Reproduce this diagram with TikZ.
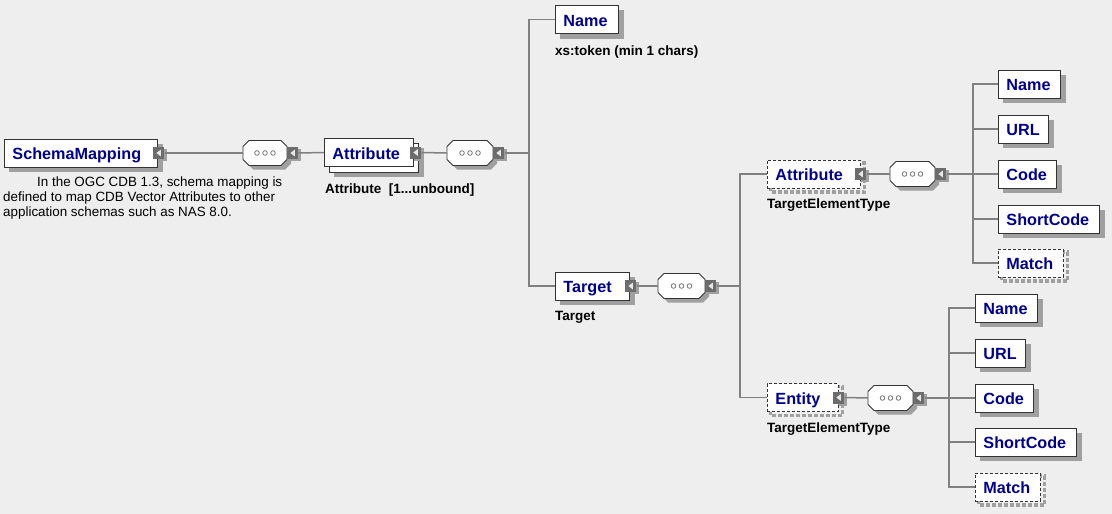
\documentclass[tikz,border=0pt]{standalone}
\usepackage{fontspec}
\setmainfont{Liberation Sans}
\pgfdeclarelayer{bgl}
\pgfdeclarelayer{shl}
\pgfsetlayers{bgl,shl,main}
\definecolor{bg}{HTML}{EEEEEE}
\definecolor{navy}{HTML}{000090}
\definecolor{boxc}{HTML}{333333}
\definecolor{shadowc}{HTML}{A0A0A0}
\definecolor{linec}{HTML}{808080}
\definecolor{btnc}{HTML}{6C6C6C}
\definecolor{tric}{HTML}{E8E8E8}
\newcommand\elemfont{\fontsize{16.2}{18}\selectfont\bfseries}
\newcommand\lblfont{\fontsize{13.5}{15}\selectfont\bfseries}
\newcommand\descfont{\fontsize{13.4}{15}\selectfont}
\newcommand\compo[4]{% name, cx, cy, width
  \node[compph, minimum width=#4pt] (#1) at (#2,#3) {};
  \pgfmathsetmacro\hw{#4/2}
  \fill[shadowc, shift={(#2+4,#3+4)}] (-\hw+6,-12.5) -- (\hw-6,-12.5) -- (\hw,-6.5) -- (\hw,6.5) -- (\hw-6,12.5) -- (-\hw+6,12.5) -- (-\hw,6.5) -- (-\hw,-6.5) -- cycle;
  \filldraw[fill=white, draw=boxc, line width=0.9pt, shift={(#2,#3)}] (-\hw+6,-12.5) -- (\hw-6,-12.5) -- (\hw,-6.5) -- (\hw,6.5) -- (\hw-6,12.5) -- (-\hw+6,12.5) -- (-\hw,6.5) -- (-\hw,-6.5) -- cycle;
  \foreach \dx in {-8,0,8}{\draw[black!55, line width=0.8pt] ([xshift=\dx pt]#1.center) circle (2.3pt);}
  \node[btn, anchor=west] (#1b) at (#1.east) {};
}
\begin{document}
\begin{tikzpicture}[x=1pt,y=-1pt,
  elem/.style={draw=boxc, fill=white, line width=0.9pt, minimum height=28pt,
    inner xsep=8pt, inner ysep=0pt, anchor=west, font=\elemfont, text=navy,
    align=left, text height=16pt, text depth=2.4pt},
  optelem/.style={elem, dash pattern=on 3pt off 2pt},
  btn/.style={fill=btnc, draw=none, minimum width=11pt, minimum height=12pt, inner sep=0pt,
    path picture={\fill[tric] ([xshift=2pt,yshift=3.5pt]path picture bounding box.center) -- ++(0pt,-7pt) -- ++(-4.5pt,3.5pt) -- cycle;}},
  compph/.style={rectangle, draw=none, minimum height=25pt, inner sep=0pt},
  conn/.style={draw=linec, line width=1.5pt},
  lbl/.style={font=\lblfont, anchor=base west, inner sep=0pt, text=black},
  shad/.style={fill=shadowc, draw=none},
  dshad/.style={draw=shadowc, line width=3.5pt, dash pattern=on 4pt off 2pt},
]
\begin{pgfonlayer}{bgl}
\useasboundingbox[fill=bg] (0,0) rectangle (1112,514);
\end{pgfonlayer}

% root
\node[elem, text width=137pt] (sm) at (4,153) {SchemaMapping};
\node[btn] (smb) at ([xshift=1pt]sm.east) {};
\node[font=\descfont, anchor=north west, align=left, inner sep=0pt] (desc) at (3,177)
  {\hspace*{34pt}In the OGC CDB 1.3, schema mapping is\\defined to map CDB Vector Attributes to other\\application schemas such as NAS 8.0.};
\compo{c1}{265}{153}{44}
\draw[conn] (smb.east) -- (c1.west);

% Attribute (multiple)
\node[elem, text width=73pt] (att) at (324,152.5) {Attribute};
\node[btn] (attb) at ([xshift=2pt]att.east) {};
\node[lbl] (attl) at (325,193) {Attribute\ \ [1...unbound]};
\draw[conn] (c1b.east) -- (att.west);
\compo{c2}{470}{153}{46}
\draw[conn] (attb.east) -- (c2.west);
\coordinate (j1) at (529,153);
\draw[conn] (c2b.east) -- (j1);

% Name
\node[elem, text width=47pt] (name) at (555,19.5) {Name};
\node[lbl] (namel) at (555,55) {xs:token (min 1 chars)};
\draw[conn] (j1) |- (name.west);

% Target
\node[elem, text width=58pt] (tgt) at (555,286) {Target};
\node[btn] (tgtb) at ([xshift=1pt]tgt.east) {};
\node[lbl] (tgtl) at (555,320) {Target};
\draw[conn] (j1) |- (tgt.west);
\compo{c3}{681.5}{286}{47}
\draw[conn] (tgtb.east) -- (c3.west);
\coordinate (j2) at (740,286);
\draw[conn] (c3b.east) -- (j2);

% Target Attribute
\node[optelem, text width=77pt] (ta) at (767,174) {Attribute};
\node[btn] (tab) at (ta.east) {};
\node[lbl] (tal) at (767,208) {TargetElementType};
\draw[conn] (j2) |- (ta.west);
\compo{c4}{912.5}{174}{45}
\draw[conn] (tab.east) -- (c4.west);
\coordinate (j3) at (973,174);
\draw[conn] (c4b.east) -- (j3);

\node[elem, text width=46pt] (an) at (998,84) {Name};
\node[elem, text width=34pt] (au) at (998,129) {URL};
\node[elem, text width=42pt] (ac) at (998,174) {Code};
\node[elem, text width=85pt] (as) at (998,219) {ShortCode};
\node[optelem, text width=49pt] (am) at (998,263) {Match};
\draw[conn] (j3) |- (an.west);
\draw[conn] (j3) |- (au.west);
\draw[conn] (j3) -- (ac.west);
\draw[conn] (j3) |- (as.west);
\draw[conn] (j3) |- (am.west);

% Target Entity
\node[optelem, text width=55pt] (te) at (767,397.5) {Entity};
\node[btn] (teb) at (te.east) {};
\node[lbl] (tel) at (767,432) {TargetElementType};
\draw[conn] (j2) |- (te.west);
\compo{c5}{890.5}{398}{45}
\draw[conn] (teb.east) -- (c5.west);
\coordinate (j4) at (949,398);
\draw[conn] (c5b.east) -- (j4);

\node[elem, text width=46pt] (en) at (975,308) {Name};
\node[elem, text width=34pt] (eu) at (975,353) {URL};
\node[elem, text width=42pt] (ec) at (975,398) {Code};
\node[elem, text width=85pt] (es) at (975,442) {ShortCode};
\node[optelem, text width=49pt] (em) at (975,487) {Match};
\draw[conn] (j4) |- (en.west);
\draw[conn] (j4) |- (eu.west);
\draw[conn] (j4) -- (ec.west);
\draw[conn] (j4) |- (es.west);
\draw[conn] (j4) |- (em.west);

% shadows
\begin{pgfonlayer}{shl}
\foreach \n in {sm,name,tgt,an,au,ac,as,en,eu,ec,es}{
  \fill[shad] ([shift={(5pt,-5pt)}]\n.north west) rectangle ([shift={(5pt,-5pt)}]\n.south east);}
\fill[shad] ([shift={(10pt,-10pt)}]att.north west) rectangle ([shift={(10pt,-10pt)}]att.south east);
\filldraw[fill=white, draw=boxc, line width=0.9pt] ([shift={(5pt,-5pt)}]att.north west) rectangle ([shift={(5pt,-5pt)}]att.south east);
\foreach \n in {ta,am,te,em}{
  \draw[dshad] ([shift={(3.5pt,-3.5pt)}]\n.north west) rectangle ([shift={(3.5pt,-3.5pt)}]\n.south east);}
\foreach \n in {smb,attb,tgtb,tab,teb,c1b,c2b,c3b,c4b,c5b}{
  \fill[shad] ([shift={(2pt,-2pt)}]\n.north west) rectangle ([shift={(2pt,-2pt)}]\n.south east);}
\end{pgfonlayer}
\end{tikzpicture}
\end{document}
